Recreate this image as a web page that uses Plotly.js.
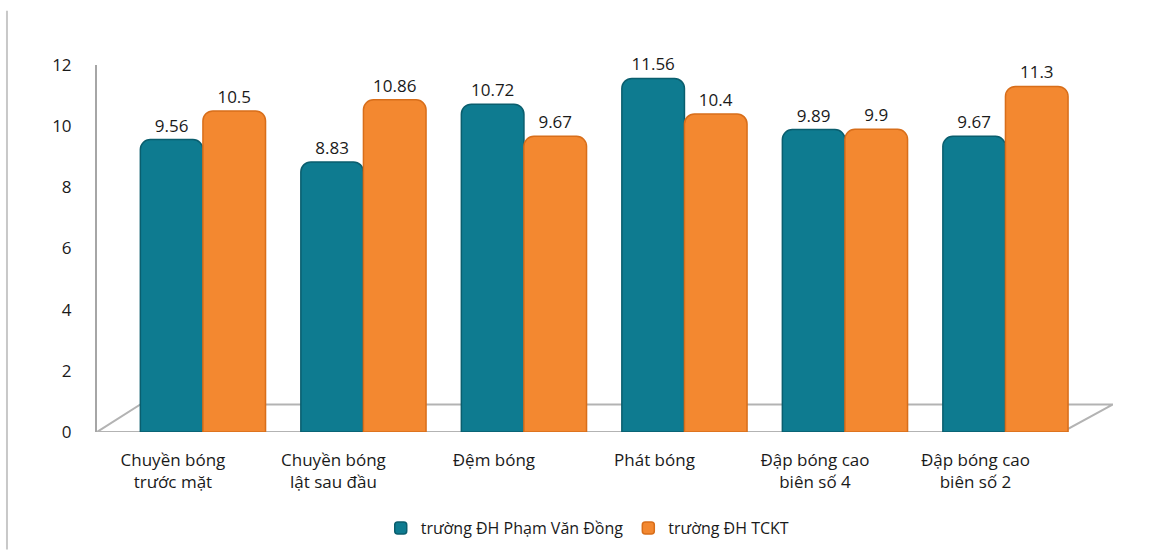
<!DOCTYPE html>
<html>
<head>
<meta charset="utf-8">
<script src="https://cdn.plot.ly/plotly-3.0.1.min.js"></script>
<style>html,body{margin:0;padding:0;background:#fff;}#chart{width:1161px;height:557px;}</style>
</head>
<body>
<div id="chart"></div>
<script>
const categories = [
  "Chuyền bóng<br>trước mặt",
  "Chuyền bóng<br>lật sau đầu",
  "Đệm bóng",
  "Phát bóng",
  "Đập bóng cao<br>biên số 4",
  "Đập bóng cao<br>biên số 2"
];
const seriesNames = ["trường ĐH Phạm Văn Đồng", "trường ĐH TCKT"];
const phamVanDong = [9.56, 8.83, 10.72, 11.56, 9.89, 9.67];
const tckt = [10.5, 10.86, 9.67, 10.4, 9.9, 11.3];
const yTicks = [0, 2, 4, 6, 8, 10, 12];

const FONT = "'Open Sans', 'DejaVu Sans', sans-serif";
const idx = categories.map((_, i) => i);

function barTrace(name, values, color, edge) {
  return {
    type: 'bar',
    name: name,
    x: idx,
    y: values,
    text: values.map(v => String(v)),
    textposition: 'outside',
    cliponaxis: false,
    textfont: {family: FONT, size: 17, color: '#1a1a1a'},
    marker: {color: color, line: {color: edge, width: 1.5}, cornerradius: 10},
    hoverinfo: 'x+y'
  };
}

const data = [
  barTrace(seriesNames[0], phamVanDong, '#0E7B90', '#0A5E6E'),
  barTrace(seriesNames[1], tckt, '#F38830', '#D86E1A')
];

const layout = {
  width: 1161,
  height: 557,
  paper_bgcolor: '#ffffff',
  plot_bgcolor: 'rgba(0,0,0,0)',
  margin: {l: 97, r: 48, t: 65, b: 120},
  barmode: 'group',
  bargap: 0.22,
  bargroupgap: 0,
  font: {family: FONT, color: '#1a1a1a'},
  showlegend: true,
  legend: {
    orientation: 'h', x: 0.483, xanchor: 'center', y: -0.262, yanchor: 'middle',
    font: {family: FONT, size: 16, color: '#1a1a1a'},
    itemwidth: 30, traceorder: 'normal'
  },
  xaxis: {
    range: [-0.66, 5.67],
    tickmode: 'array', tickvals: idx, ticktext: categories,
    ticks: '', showline: false, showgrid: false, zeroline: false,
    tickfont: {family: FONT, size: 17, color: '#1a1a1a'},
    ticklabelshift: -30,
    ticklabelstandoff: 16,
    fixedrange: true
  },
  yaxis: {
    range: [0, 12],
    tickmode: 'array', tickvals: yTicks, ticktext: yTicks.map(String),
    showline: true, linecolor: '#a6a6a6', linewidth: 2,
    showgrid: false, zeroline: false, ticks: '',
    tickfont: {family: FONT, size: 17, color: '#1a1a1a'},
    ticklabelstandoff: 20,
    fixedrange: true
  },
  shapes: [
    {type: 'path', xref: 'x', yref: 'y', layer: 'below',
     path: 'M -0.66 0 L 5.355 0 L 5.67 0.9 L -0.39 0.9 Z',
     fillcolor: '#ffffff', line: {color: '#b3b3b3', width: 2}},
    {type: 'line', xref: 'paper', yref: 'paper', layer: 'below',
     x0: -0.0886, x1: -0.0886, y0: 1.148, y1: -0.32,
     line: {color: '#c8c8c8', width: 2}}
  ]
};

Plotly.newPlot('chart', data, layout, {displayModeBar: false, staticPlot: true});
</script>
</body>
</html>
